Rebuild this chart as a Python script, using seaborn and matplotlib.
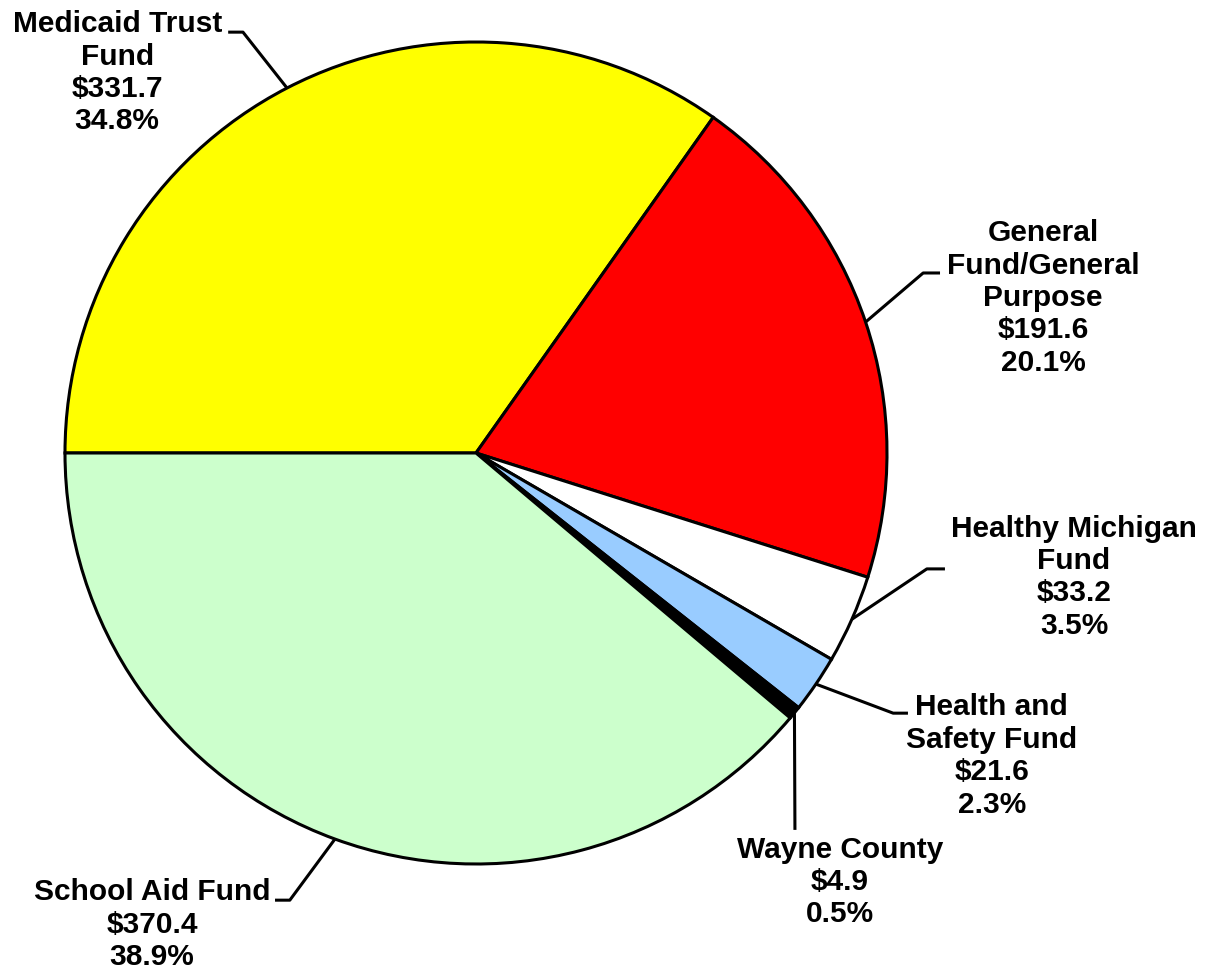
import matplotlib.pyplot as plt
import numpy as np
import seaborn as sns

# fund sources, $ millions
names = ["Medicaid Trust\nFund", "General\nFund/General\nPurpose", "Healthy Michigan\nFund",
         "Health and\nSafety Fund", "Wayne County", "School Aid Fund"]
amounts = [331.7, 191.6, 33.2, 21.6, 4.9, 370.4]
shares = [34.8, 20.1, 3.5, 2.3, 0.5, 38.9]
colors = ["#FFFF00", "#FF0000", "#FFFFFF", "#99CCFF", "#000000", "#CCFFCC"]

# label layout (data units, pie radius = 1)
text_pos = [(-0.873, 0.925), (1.380, 0.377), (1.455, -0.302),
            (1.255, -0.737), (0.886, -1.044), (-0.788, -1.148)]
elbows = [(-0.567, 1.024), (1.088, 0.438), (1.097, -0.282),
          (1.015, -0.633), (0.776, -0.917), (-0.453, -1.088)]
ends = [(-0.603, 1.024), (1.129, 0.438), (1.141, -0.282),
        (1.051, -0.633), (0.776, -0.917), (-0.489, -1.088)]


def main():
    sns.set_theme(style="white")
    plt.rcParams['font.family'] = ['Liberation Sans', 'DejaVu Sans']

    fig = plt.figure(figsize=(12.13, 9.75), dpi=100)
    ax = fig.add_axes([0, 0, 1, 1])

    wedges, _ = ax.pie(amounts, colors=colors, startangle=180, counterclock=False,
                       wedgeprops=dict(edgecolor="black", linewidth=2.2))

    for w, name, amt, pct, tp, el, en in zip(wedges, names, amounts, shares,
                                             text_pos, elbows, ends):
        mid = np.deg2rad((w.theta1 + w.theta2) / 2)
        edge = (np.cos(mid), np.sin(mid))
        ax.plot([edge[0], el[0], en[0]], [edge[1], el[1], en[1]],
                color="black", lw=2.2, solid_capstyle="butt", clip_on=False)
        ax.text(tp[0], tp[1], f"{name}\n${amt:.1f}\n{pct:.1f}%",
                ha="center", va="center", multialignment="center",
                fontsize=21.5, fontweight="bold", linespacing=1.2, color="black")

    ax.set_xlim(-476 / 411, (1213 - 476) / 411)
    ax.set_ylim((453 - 975) / 411, 453 / 411)
    ax.set_aspect("equal", adjustable="box")
    ax.axis("off")

    fig.savefig("out.png", dpi=100, facecolor="white")


if __name__ == '__main__':
    main()
